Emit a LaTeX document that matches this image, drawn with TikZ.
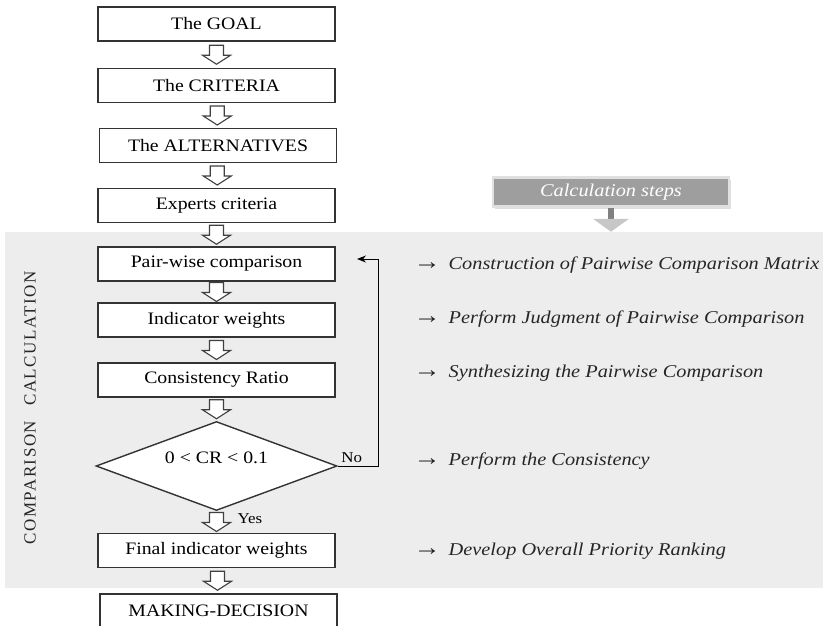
\documentclass[tikz,border=0pt]{standalone}
\usepackage{fontspec}
\setmainfont{Liberation Serif}[FakeStretch=1.13]
\newfontfamily\sidefont{Liberation Serif}[LetterSpace=9]
\usetikzlibrary{shapes.geometric,shadows,calc,arrows.meta}

\begin{document}
\begin{tikzpicture}[x=1pt, y=-1pt,
	stage/.style={draw=black!80, line width=1.4pt, fill=white, minimum width=237pt, minimum height=34pt, inner sep=0pt, font=\fontsize{17.5}{20}\selectfont},
	test/.style={stage, diamond, minimum width=241pt, minimum height=89pt, aspect=2.7},
	hollow/.style={draw=black!75, line width=1.1pt, fill=white, line join=miter},
	calcstep/.style={anchor=west, text=black!85, font=\fontsize{18}{20}\selectfont\itshape},
	small/.style={font=\fontsize{15}{17}\selectfont}]
	\useasboundingbox (0,0) rectangle (823,625);
	\fill [black!7] (5,232) rectangle (823,588);
	\node [stage] (goal) at (216.5,24) {The GOAL};
	\node [stage] (crit) at (216.5,85.5) {The CRITERIA};
	\node [stage] (alt) at (218,145.5) {The ALTERNATIVES};
	\node [stage] (expert) at (216.5,205.5) {Experts criteria};
	\node [stage] (pair) at (216.5,264) {Pair-wise comparison};
	\node [stage] (weight) at (216.5,320) {Indicator weights};
	\node [stage] (ratio) at (216.5,380) {Consistency Ratio};
	\node [test] (check) at (216.5,466) {\raisebox{3pt}[0pt][0pt]{0 < CR < 0.1}};
	\node [stage] (final) at (216.5,550.5) {Final indicator weights};
	\node [stage] (decide) at (218.5,611) {MAKING-DECISION};
	\foreach \a/\b in {goal/crit, crit/alt, alt/expert, expert/pair, pair/weight, weight/ratio, ratio/check, check/final, final/decide}
		\draw [hollow] ($(\a.south)!0.5!(\b.north)$) +(-7,-9.5) -- +(7,-9.5) -- +(7,0.5) -- +(14,0.5) -- +(0,9.5) -- +(-14,0.5) -- +(-7,0.5) -- cycle;
	\coordinate (bend) at (378,466);
	\coordinate (back) at (357,259);
	\draw [line width=1pt, -{Stealth[length=9pt,width=7pt]}] (check.east) -- node [small, above, pos=0.35] (no) {No} (bend) |- (back);
	\node [small, anchor=west] (yes) at (234,519) {Yes};
	\node [rotate=90, text=black!85] (side) at (30,408) {\sidefont\fontsize{17}{17}\selectfont COMPARISON\hspace{15pt}CALCULATION};
	\node [fill=black!38, draw=black!12, line width=2.5pt, minimum width=236pt, minimum height=29pt, text=white, font=\fontsize{18}{20}\selectfont\itshape, drop shadow={shadow xshift=2pt, shadow yshift=-2pt, opacity=0.25}] (calc) at (611,192) {Calculation steps};
	\fill [black!50] ($(calc.south)+(-3,0)$) rectangle ($(calc.south)+(3,11)$);
	\fill [black!22] ($(calc.south)+(-18,11)$) -- ($(calc.south)+(18,11)$) -- ($(calc.south)+(0,24)$) -- cycle;
	\node [calcstep] (s1) at (410,265) {{\upshape\fontsize{24}{20}\selectfont→}\hspace{8pt}Construction of Pairwise Comparison Matrix};
	\node [calcstep] (s2) at (410,319) {{\upshape\fontsize{24}{20}\selectfont→}\hspace{8pt}Perform Judgment of Pairwise Comparison};
	\node [calcstep] (s3) at (410,373) {{\upshape\fontsize{24}{20}\selectfont→}\hspace{8pt}Synthesizing the Pairwise Comparison};
	\node [calcstep] (s4) at (410,461) {{\upshape\fontsize{24}{20}\selectfont→}\hspace{8pt}Perform the Consistency};
	\node [calcstep] (s5) at (410,551) {{\upshape\fontsize{24}{20}\selectfont→}\hspace{8pt}Develop Overall Priority Ranking};
\end{tikzpicture}
\end{document}
